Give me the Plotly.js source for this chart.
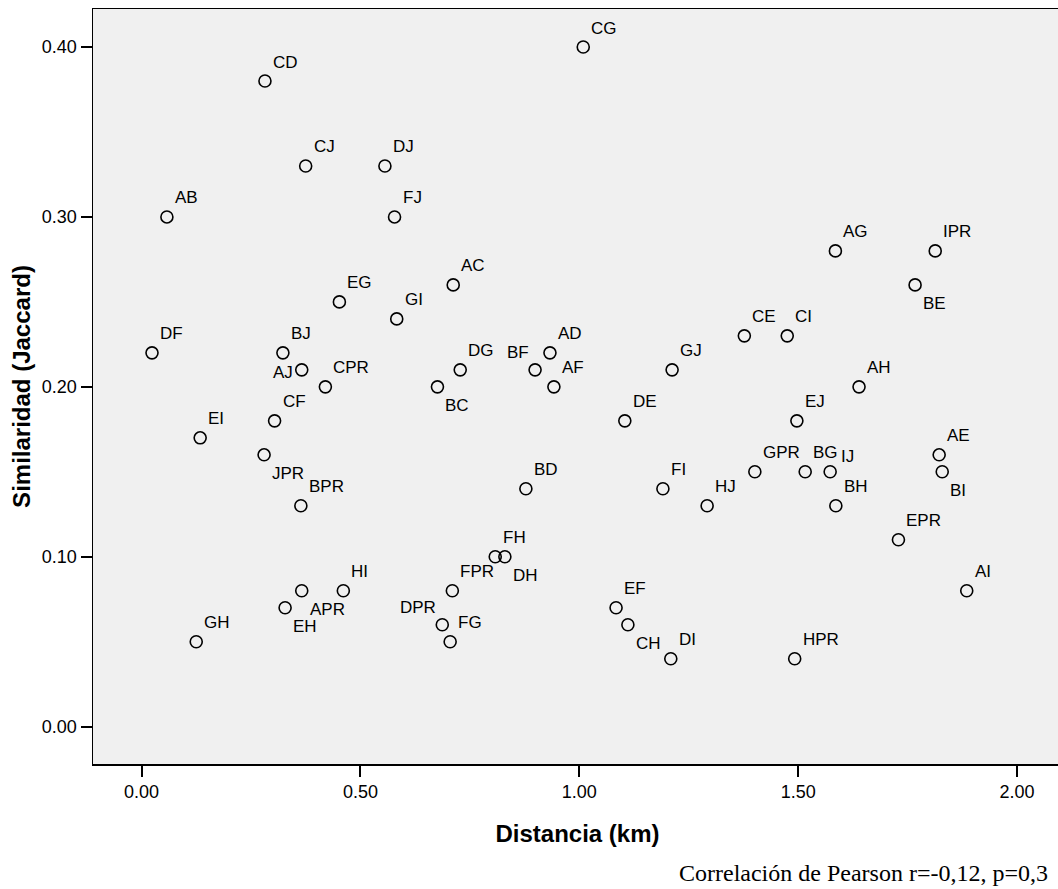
<!DOCTYPE html>
<html>
<head>
<meta charset="utf-8">
<script src="https://cdn.plot.ly/plotly-3.0.1.min.js"></script>
<style>
  html, body { margin: 0; padding: 0; overflow: hidden; background: #fff; }
  #chart { width: 1062px; height: 889px; }
</style>
</head>
<body>
<div id="chart"></div>
<script>
// Pair labels
const pairNames = ["CG","CD","CJ","DJ","AB","FJ","AG","IPR","BE","AC",
  "EG","GI","CE","CI","DF","BJ","AD","AJ","CPR","DG",
  "BF","AF","GJ","AH","BC","DE","EJ","CF","EI","JPR",
  "BPR","GPR","BG","IJ","AE","BI","BD","FI","HJ","BH",
  "EPR","FH","DH","FPR","HI","AI","APR","EH","DPR","FG",
  "EF","CH","DI","HPR","GH"];
// Distance (km)
const distanceKm = [1.009,0.282,0.375,0.556,0.058,0.578,1.585,1.813,1.767,0.712,
  0.452,0.583,1.377,1.475,0.024,0.323,0.933,0.366,0.420,0.728,
  0.899,0.942,1.212,1.639,0.676,1.104,1.497,0.304,0.134,0.280,
  0.364,1.401,1.516,1.573,1.822,1.829,0.878,1.191,1.292,1.586,
  1.729,0.808,0.830,0.710,0.461,1.885,0.366,0.328,0.687,0.705,
  1.084,1.111,1.209,1.492,0.125];
// Jaccard similarity
const similarity = [0.40,0.38,0.33,0.33,0.30,0.30,0.28,0.28,0.26,0.26,
  0.25,0.24,0.23,0.23,0.22,0.22,0.22,0.21,0.20,0.21,
  0.21,0.20,0.21,0.20,0.20,0.18,0.18,0.18,0.17,0.16,
  0.13,0.15,0.15,0.15,0.16,0.15,0.14,0.14,0.13,0.13,
  0.11,0.10,0.10,0.08,0.08,0.08,0.08,0.07,0.06,0.05,
  0.07,0.06,0.04,0.04,0.05];
// Label placement relative to point: ur, ur2, lr, ul, l
const labelPos = ["ur","ur","ur","ur","ur","ur","ur","ur","lr","ur",
  "ur","ur","ur","ur","ur","ur","ur","l","ur","ur",
  "ul","ur","ur","ur","lr","ur","ur","ur","ur","lr",
  "ur","ur","ur","ur2","ur","lr","ur","ur","ur","ur",
  "ur","ur","lr","ur","ur","ur","lr","lr","ul","ur",
  "ur","lr","ur","ur","ur"];

const xTicks = [0, 0.5, 1.0, 1.5, 2.0];
const xTickText = ["0.00","0.50","1.00","1.50","2.00"];
const yTicks = [0, 0.1, 0.2, 0.3, 0.4];
const yTickText = ["0.00","0.10","0.20","0.30","0.40"];

const posStyle = {
  ur:  {xanchor: "left",  xshift: 6,  yshift: 19},
  ur2: {xanchor: "left",  xshift: 9,  yshift: 15},
  lr:  {xanchor: "left",  xshift: 6,  yshift: -19},
  ul:  {xanchor: "right", xshift: -4, yshift: 17},
  l:   {xanchor: "right", xshift: -7, yshift: -3}
};

const annotations = pairNames.map((n, i) => {
  const s = posStyle[labelPos[i]];
  return {
    x: distanceKm[i], y: similarity[i], xref: "x", yref: "y",
    text: n, showarrow: false,
    xanchor: s.xanchor, yanchor: "middle",
    xshift: s.xshift, yshift: s.yshift,
    font: {family: "Liberation Sans, Arial, sans-serif", size: 17, color: "#000"}
  };
});

annotations.push({
  xref: "paper", yref: "paper", x: 0.9876, y: -0.145,
  xanchor: "right", yanchor: "middle", showarrow: false,
  text: "Correlación de Pearson r=-0,12, p=0,3",
  font: {family: "Liberation Serif, Times New Roman, serif", size: 24, color: "#000"}
});

const trace = {
  type: "scatter", mode: "markers",
  x: distanceKm, y: similarity,
  marker: {symbol: "circle-open", size: 12, color: "#000", line: {width: 1.6, color: "#000"}},
  hoverinfo: "skip"
};

const layout = {
  width: 1062, height: 889,
  margin: {l: 93, r: 0, t: 9, b: 125},
  paper_bgcolor: "#ffffff",
  plot_bgcolor: "#f0f0f0",
  showlegend: false,
  xaxis: {
    range: [-0.1108, 2.1026],
    tickvals: xTicks, ticktext: xTickText,
    ticks: "outside", ticklen: 11, tickwidth: 2, tickcolor: "#000",
    showgrid: false, zeroline: false,
    showline: true, linecolor: "#000", linewidth: 1.5, mirror: true,
    tickfont: {family: "Liberation Sans, Arial, sans-serif", size: 18, color: "#000"},
    title: {text: "<b>Distancia (km)</b>", standoff: 24,
      font: {family: "Liberation Sans, Arial, sans-serif", size: 24, color: "#000"}}
  },
  yaxis: {
    range: [-0.02197, 0.42238],
    tickvals: yTicks, ticktext: yTickText,
    ticks: "outside", ticklen: 11, tickwidth: 2, tickcolor: "#000",
    showgrid: false, zeroline: false,
    showline: true, linecolor: "#000", linewidth: 1.5, mirror: true,
    tickfont: {family: "Liberation Sans, Arial, sans-serif", size: 18, color: "#000"},
    title: {text: "<b>Similaridad (Jaccard)</b>", standoff: 4,
      font: {family: "Liberation Sans, Arial, sans-serif", size: 24, color: "#000"}}
  },
  annotations: annotations
};

Plotly.newPlot("chart", [trace], layout, {staticPlot: true, displayModeBar: false});
</script>
</body>
</html>
